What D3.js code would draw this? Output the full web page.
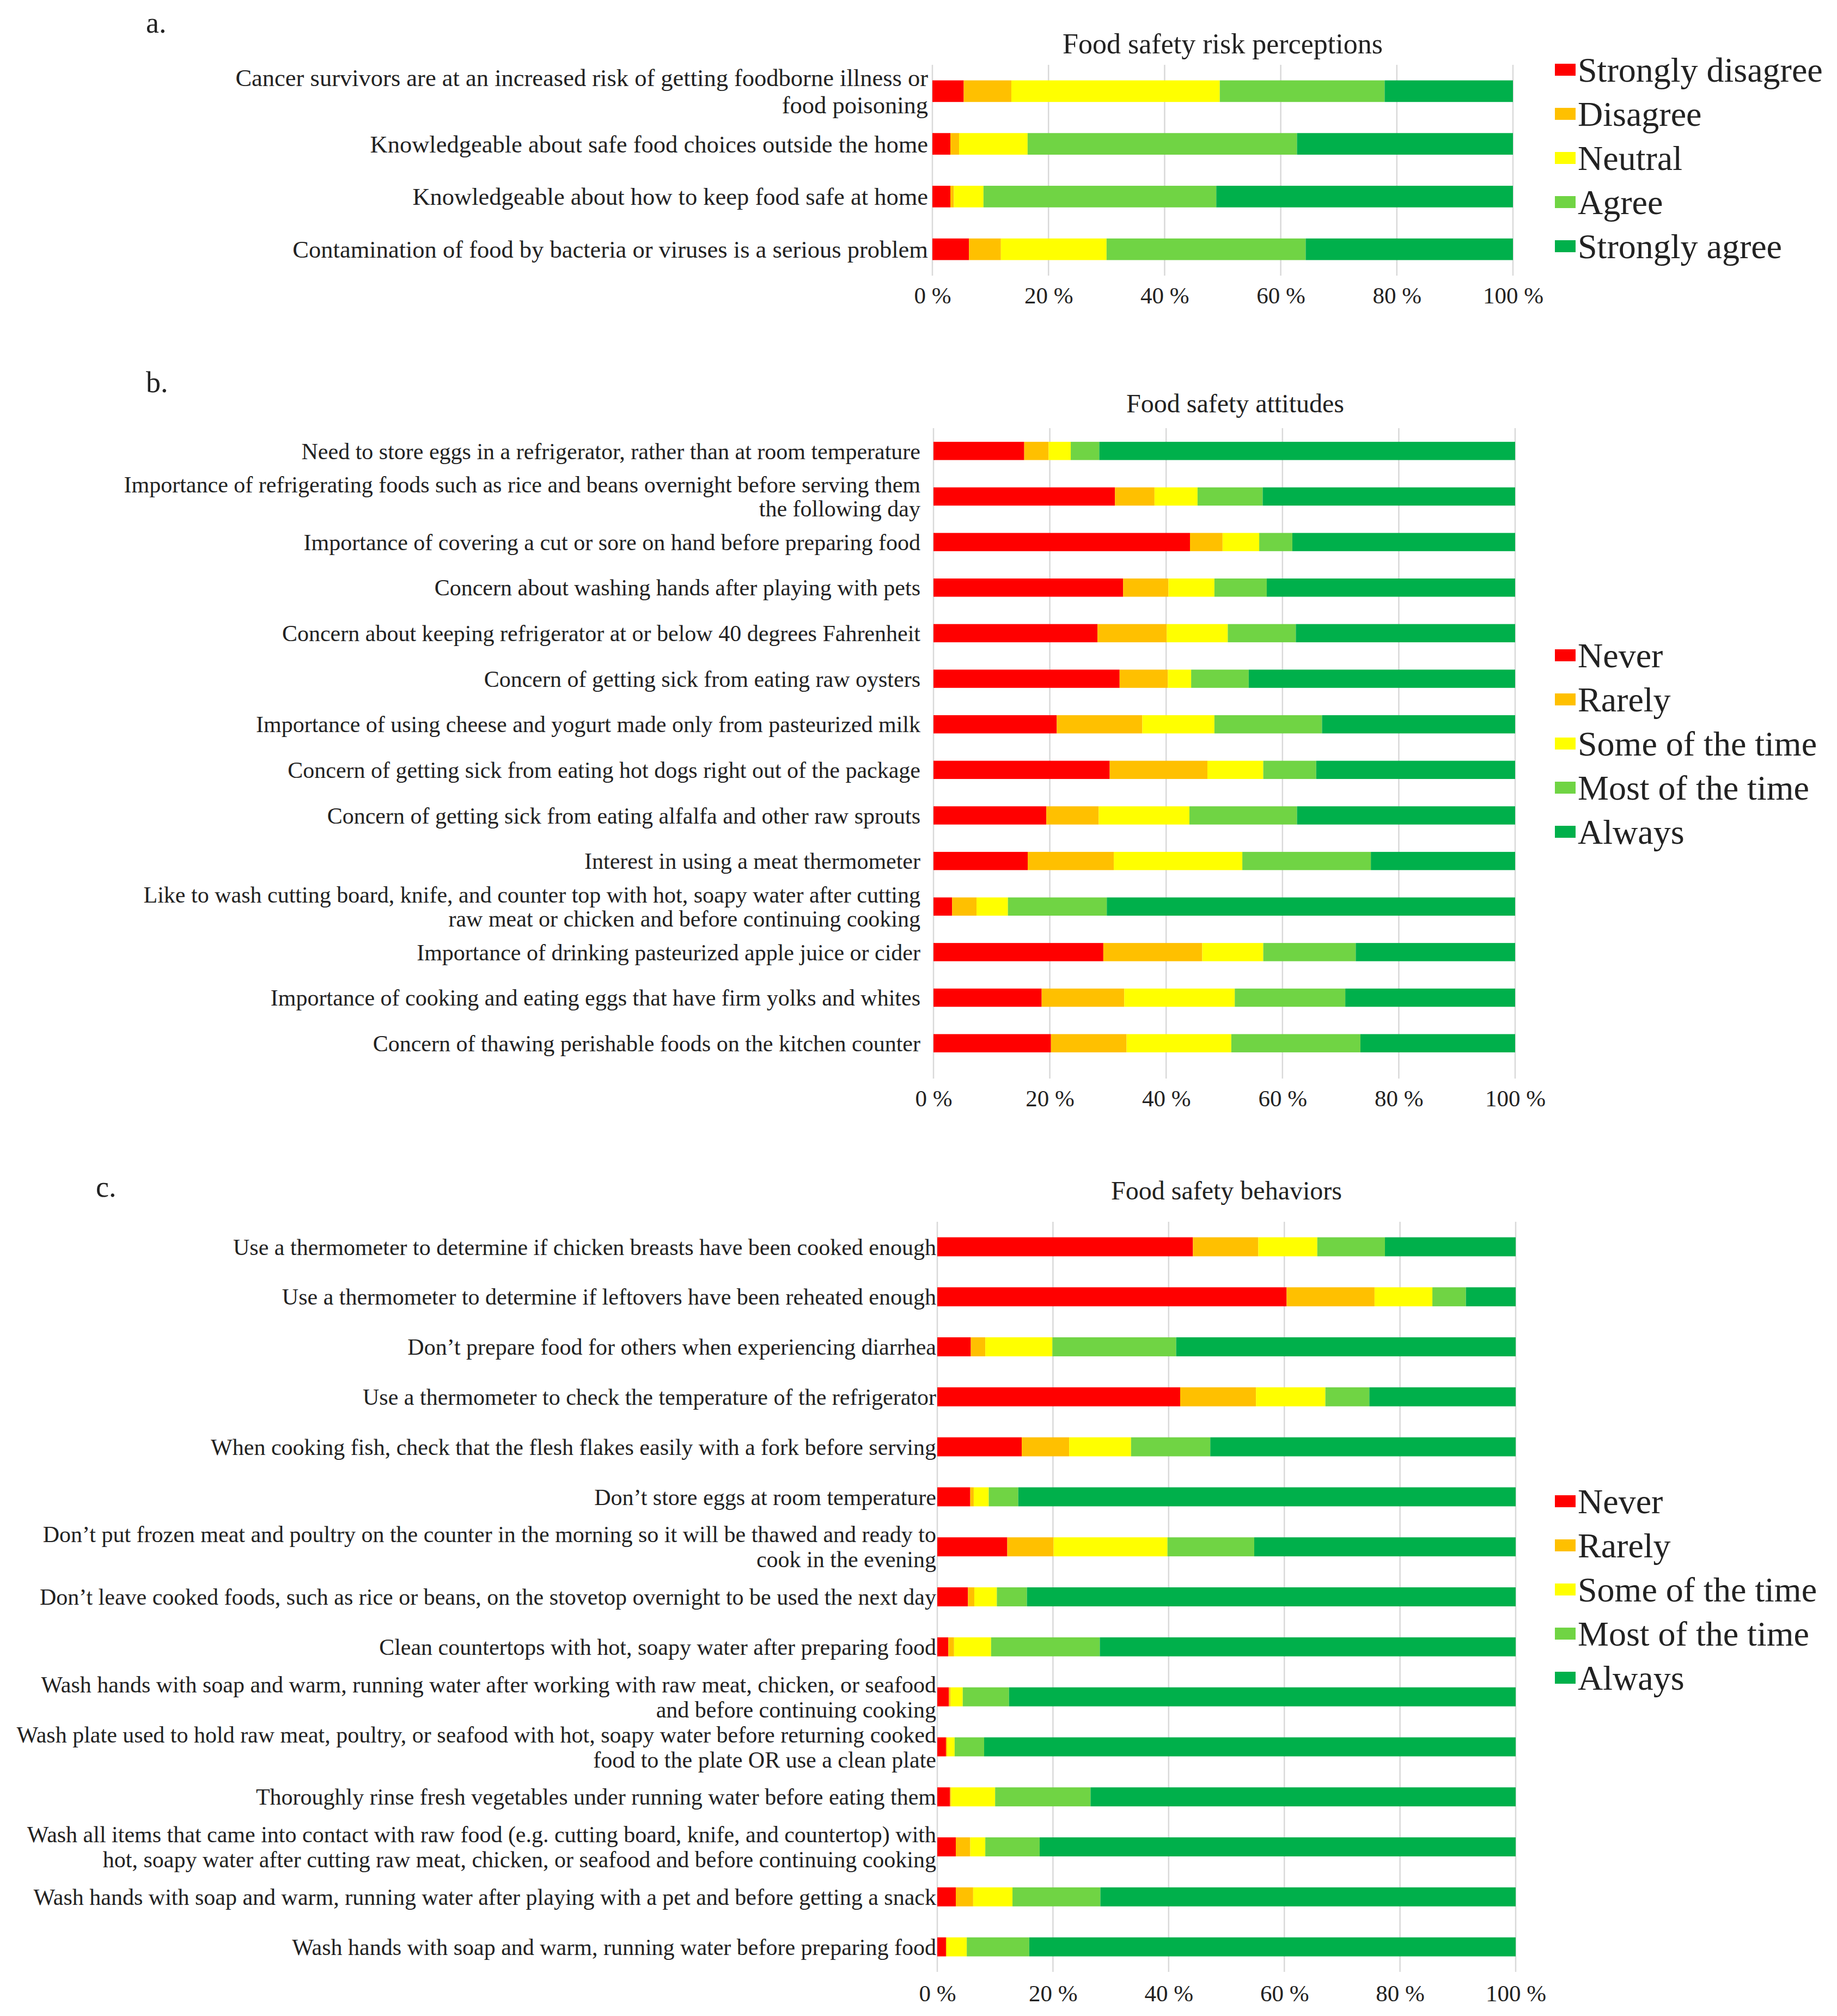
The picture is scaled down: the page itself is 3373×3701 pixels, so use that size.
<!DOCTYPE html>
<html>
<head>
<meta charset="utf-8">
<script src="https://cdn.jsdelivr.net/npm/d3@7"></script>
<style>
  body { margin: 0; background: #fff; }
  text { font-family: "Liberation Serif", "DejaVu Serif", serif; fill: #222; }
</style>
</head>
<body>
<svg id="chart" width="3373" height="3701"></svg>
<script>
// categories (top to bottom), a line break is marked with \n
var riskItems = [
  "Cancer survivors are at an increased risk of getting foodborne illness or\nfood poisoning",
  "Knowledgeable about safe food choices outside the home",
  "Knowledgeable about how to keep food safe at home",
  "Contamination of food by bacteria or viruses is a serious problem"
];
var attitudeItems = [
  "Need to store eggs in a refrigerator, rather than at room temperature",
  "Importance of refrigerating foods such as rice and beans overnight before serving them\nthe following day",
  "Importance of covering a cut or sore on hand before preparing food",
  "Concern about washing hands after playing with pets",
  "Concern about keeping refrigerator at or below 40 degrees Fahrenheit",
  "Concern of getting sick from eating raw oysters",
  "Importance of using cheese and yogurt made only from pasteurized milk",
  "Concern of getting sick from eating hot dogs right out of the package",
  "Concern of getting sick from eating alfalfa and other raw sprouts",
  "Interest in using a meat thermometer",
  "Like to wash cutting board, knife, and counter top with hot, soapy water after cutting\nraw meat or chicken and before continuing cooking",
  "Importance of drinking pasteurized apple juice or cider",
  "Importance of cooking and eating eggs that have firm yolks and whites",
  "Concern of thawing perishable foods on the kitchen counter"
];
var behaviorItems = [
  "Use a thermometer to determine if chicken breasts have been cooked enough",
  "Use a thermometer to determine if leftovers have been reheated enough",
  "Don\u2019t prepare food for others when experiencing diarrhea",
  "Use a thermometer to check the temperature of the refrigerator",
  "When cooking fish, check that the flesh flakes easily with a fork before serving",
  "Don\u2019t store eggs at room temperature",
  "Don\u2019t put frozen meat and poultry on the counter in the morning so it will be thawed and ready to\ncook in the evening",
  "Don\u2019t leave cooked foods, such as rice or beans, on the stovetop overnight to be used the next day",
  "Clean countertops with hot, soapy water after preparing food",
  "Wash hands with soap and warm, running water after working with raw meat, chicken, or seafood\nand before continuing cooking",
  "Wash plate used to hold raw meat, poultry, or seafood with hot, soapy water before returning cooked\nfood to the plate OR use a clean plate",
  "Thoroughly rinse fresh vegetables under running water before eating them",
  "Wash all items that came into contact with raw food (e.g. cutting board, knife, and countertop) with\nhot, soapy water after cutting raw meat, chicken, or seafood and before continuing cooking",
  "Wash hands with soap and warm, running water after playing with a pet and before getting a snack",
  "Wash hands with soap and warm, running water before preparing food"
];

// legend keys
var agreeLevels = ["Strongly disagree", "Disagree", "Neutral", "Agree", "Strongly agree"];
var freqLevels = ["Never", "Rarely", "Some of the time", "Most of the time", "Always"];

// percentages per series (same order as the categories)
var riskStronglyDisagree = [5.4, 3.1, 3.1, 6.3];
var riskDisagree = [8.2, 1.5, 0.6, 5.5];
var riskNeutral = [35.9, 11.8, 5.1, 18.2];
var riskAgree = [28.4, 46.4, 40.1, 34.3];
var riskStronglyAgree = [22.1, 37.2, 51.1, 35.7];

var attNever = [15.6, 31.2, 44.1, 32.6, 28.2, 32.0, 21.2, 30.3, 19.4, 16.2, 3.2, 29.2, 18.6, 20.2];
var attRarely = [4.2, 6.8, 5.6, 7.8, 11.9, 8.3, 14.7, 16.8, 9.0, 14.8, 4.2, 17.0, 14.2, 13.0];
var attSome = [3.8, 7.4, 6.3, 7.9, 10.5, 4.0, 12.4, 9.6, 15.6, 22.1, 5.4, 10.5, 19.0, 18.0];
var attMost = [4.9, 11.2, 5.7, 9.0, 11.7, 9.9, 18.5, 9.1, 18.5, 22.1, 17.0, 15.9, 19.0, 22.2];
var attAlways = [71.5, 43.4, 38.3, 42.7, 37.7, 45.8, 33.2, 34.2, 37.5, 24.8, 70.2, 27.4, 29.2, 26.6];

var behNever = [44.2, 60.4, 5.8, 42.0, 14.6, 5.7, 12.1, 5.3, 1.9, 2.0, 1.5, 2.2, 3.2, 3.2, 1.5];
var behRarely = [11.3, 15.2, 2.5, 13.1, 8.2, 0.6, 8.0, 1.1, 1.0, 0.3, 0.2, 0.2, 2.5, 3.0, 0.1];
var behSome = [10.2, 10.0, 11.6, 12.0, 10.7, 2.6, 19.7, 3.9, 6.4, 2.1, 1.3, 7.6, 2.6, 6.8, 3.5];
var behMost = [11.7, 5.8, 21.4, 7.6, 13.7, 5.1, 15.0, 5.2, 18.8, 8.0, 5.1, 16.5, 9.4, 15.2, 10.8];
var behAlways = [22.6, 8.6, 58.7, 25.3, 52.8, 86.0, 45.2, 84.5, 71.9, 87.6, 91.9, 73.5, 82.3, 71.8, 84.1];

// x axis ticks
var tickValues = [0, 20, 40, 60, 80, 100];
var tickLabels = ["0 %", "20 %", "40 %", "60 %", "80 %", "100 %"];

var colors = ["#ff0000", "#ffc000", "#ffff00", "#70d444", "#00b04b"];

var svg = d3.select("#chart");
svg.append("rect").attr("width", 3373).attr("height", 3701).attr("fill", "#fff");

// build rows for d3.stack
function makeRows(items, keys, series) {
  return items.map(function (label, i) {
    var row = { label: label };
    keys.forEach(function (k, j) { row[k] = series[j][i]; });
    return row;
  });
}

function drawPanel(p) {
  var rows = makeRows(p.items, p.keys, p.series);
  var x = d3.scaleLinear().domain([0, 100]).range([p.x0, p.x1]);
  var y = d3.scaleBand().domain(p.items).range([p.top, p.bottom]).paddingInner(p.pad).paddingOuter(p.pad / 2);
  var color = d3.scaleOrdinal().domain(p.keys).range(colors);
  var g = svg.append("g");

  // panel letter and title
  g.append("text").attr("x", p.letterX).attr("y", p.letterY)
    .attr("font-size", 54).text(p.letter);
  g.append("text").attr("x", (p.x0 + p.x1) / 2 + p.titleShift).attr("y", p.titleY)
    .attr("text-anchor", "middle").attr("font-size", p.titleSize).text(p.title);

  // gridlines
  g.append("g").selectAll("line").data(tickValues).enter().append("line")
    .attr("x1", function (d) { return x(d); }).attr("x2", function (d) { return x(d); })
    .attr("y1", p.top).attr("y2", p.gridBottom)
    .attr("stroke", "#d9d9d9").attr("stroke-width", 2.5);

  // stacked bars
  var stacked = d3.stack().keys(p.keys)(rows);
  g.append("g").selectAll("g").data(stacked).enter().append("g")
    .attr("fill", function (d) { return color(d.key); })
    .selectAll("rect").data(function (d) { return d; }).enter().append("rect")
    .attr("x", function (d) { return x(d[0]); })
    .attr("y", function (d) { return y(d.data.label); })
    .attr("width", function (d) { return x(d[1]) - x(d[0]); })
    .attr("height", y.bandwidth());

  // x axis labels
  var axis = g.append("g").attr("transform", "translate(0," + p.axisY + ")")
    .call(d3.axisBottom(x).tickValues(tickValues).tickSize(0)
      .tickFormat(function (d, i) { return tickLabels[i]; }));
  axis.select(".domain").remove();
  axis.selectAll("text").attr("font-size", 43).attr("font-family", "Liberation Serif").attr("fill", "#222").attr("dy", 0);

  // category labels
  var lh = p.lineHeight;
  g.append("g").selectAll("text").data(p.items).enter().append("text")
    .attr("text-anchor", "end").attr("font-size", p.labelSize)
    .attr("transform", function (d) { return "translate(" + (p.x0 - p.labelGap) + "," + (y(d) + y.bandwidth() / 2) + ")"; })
    .each(function (d) {
      var lines = d.split("\n");
      var t = d3.select(this);
      lines.forEach(function (ln, i) {
        t.append("tspan").attr("x", 0)
          .attr("y", (i - (lines.length - 1) / 2) * lh)
          .attr("dy", "0.35em").text(ln);
      });
    });

  // legend
  var leg = g.append("g").selectAll("g").data(p.keys).enter().append("g")
    .attr("transform", function (d, i) { return "translate(2855," + (p.legendY + i * 81) + ")"; });
  leg.append("rect").attr("x", 0).attr("y", -11).attr("width", 38).attr("height", 22)
    .attr("fill", function (d) { return color(d); });
  leg.append("text").attr("x", 42).attr("dy", "0.35em").attr("font-size", 64).text(function (d) { return d; });
}

drawPanel({
  letter: "a.", letterX: 268, letterY: 60,
  title: "Food safety risk perceptions", titleY: 98, titleSize: 52, titleShift: 0,
  items: riskItems, keys: agreeLevels,
  series: [riskStronglyDisagree, riskDisagree, riskNeutral, riskAgree, riskStronglyAgree],
  x0: 1712, x1: 2778, top: 119, bottom: 506, pad: 0.59, gridBottom: 506,
  axisY: 554, labelGap: 8, labelSize: 44.5, lineHeight: 50, legendY: 128
});

drawPanel({
  letter: "b.", letterX: 268, letterY: 720,
  title: "Food safety attitudes", titleY: 757, titleSize: 48, titleShift: 20,
  items: attitudeItems, keys: freqLevels,
  series: [attNever, attRarely, attSome, attMost, attAlways],
  x0: 1714, x1: 2782, top: 786, bottom: 1957, pad: 0.6, gridBottom: 1980,
  axisY: 2028, labelGap: 24, labelSize: 42, lineHeight: 44, legendY: 1203
});

drawPanel({
  letter: "c.", letterX: 176, letterY: 2197,
  title: "Food safety behaviors", titleY: 2202, titleSize: 48, titleShift: 0,
  items: behaviorItems, keys: freqLevels,
  series: [behNever, behRarely, behSome, behMost, behAlways],
  x0: 1721, x1: 2783, top: 2243, bottom: 3620, pad: 0.62, gridBottom: 3620,
  axisY: 3671, labelGap: 2, labelSize: 42, lineHeight: 46, legendY: 2756
});
</script>
</body>
</html>
